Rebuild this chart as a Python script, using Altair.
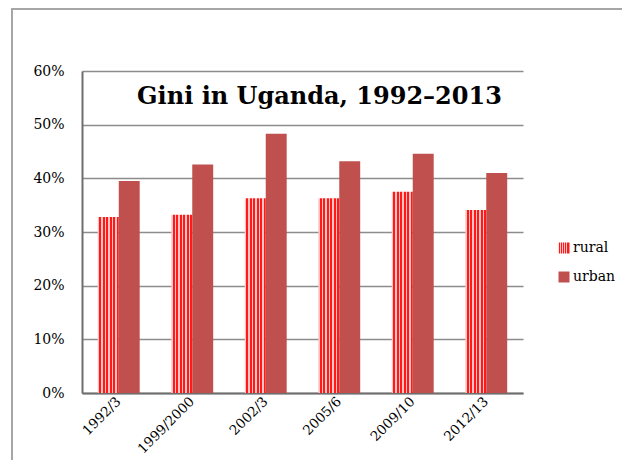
import json
import altair as alt
import pandas as pd

categories = ["1992/3", "1999/2000", "2002/3", "2005/6", "2009/10", "2012/13"]
rural = [32.8, 33.2, 36.3, 36.3, 37.5, 34.1]
urban = [39.5, 42.6, 48.3, 43.2, 44.6, 41.0]
series = ["rural", "urban"]
y_ticks = [0, 10, 20, 30, 40, 50, 60]

rows = []
for c, r, u in zip(categories, rural, urban):
    rows.append({"period": c, "series": "rural", "gini": r})
    rows.append({"period": c, "series": "urban", "gini": u})
df = pd.DataFrame(rows)

# vertical stripe gradient for the rural series
n_stripes = 6
stops = []
for i in range(n_stripes):
    a = i / n_stripes
    b = (i + 0.38) / n_stripes
    c = (i + 1) / n_stripes
    stops += [
        {"offset": a, "color": "#ffc4c4"},
        {"offset": b, "color": "#ffc4c4"},
        {"offset": b, "color": "#ff1a1a"},
        {"offset": c, "color": "#ff1a1a"},
    ]
grad = {"gradient": "linear", "x1": 0, "y1": 0, "x2": 1, "y2": 0, "stops": stops}
grad_expr = json.dumps(grad)

FONT = "DejaVu Serif"

bars = alt.Chart(df).mark_bar().encode(
    x=alt.X(
        "period:N",
        sort=categories,
        scale=alt.Scale(paddingInner=0.43, paddingOuter=0.215),
        axis=alt.Axis(
            title=None,
            labelAngle=-45,
            labelAlign="right",
            labelBaseline="middle",
            labelFont=FONT,
            labelFontSize=13.5,
            labelColor="#000000",
            labelPadding=6,
            ticks=False,
            domainColor="#6e6e6e",
            domainWidth=2,
            grid=False,
        ),
    ),
    xOffset=alt.XOffset("series:N", sort=series),
    y=alt.Y(
        "gini:Q",
        scale=alt.Scale(domain=[0, 60], nice=False),
        axis=alt.Axis(
            title=None,
            values=y_ticks,
            labelExpr="datum.value + '%'",
            labelFont=FONT,
            labelFontSize=14,
            labelColor="#000000",
            labelPadding=18,
            ticks=False,
            domainColor="#6e6e6e",
            domainWidth=2,
            gridColor="#8c8c8c",
            gridWidth=1.5,
        ),
    ),
    fill=alt.Fill(
        "series:N",
        scale=alt.Scale(domain=series, range=[{"expr": grad_expr}, "#c0504d"]),
        legend=alt.Legend(
            title=None,
            orient="none",
            legendX=475,
            legendY=170,
            symbolType="square",
            symbolSize=121,
            symbolStrokeWidth=0,
            labelFont=FONT,
            labelFontSize=14,
            labelColor="#000000",
            labelOffset=2,
            rowPadding=15,
            padding=0,
        ),
    ),
)

border = alt.Chart(pd.DataFrame({"a": [0]})).mark_rect(
    fill=None, stroke="#a6a6a6", strokeWidth=2
).encode(
    x=alt.value(-70), x2=alt.value(700), y=alt.value(-62), y2=alt.value(500)
)

chart = alt.layer(border, bars).properties(
    width=441,
    height=322,
    autosize=alt.AutoSizeParams(type="none"),
    padding={"left": 74, "top": 63, "right": 99, "bottom": 67},
    title=alt.Title(
        "Gini in Uganda, 1992–2013",
        font=FONT,
        fontSize=24,
        fontWeight="bold",
        color="#000000",
        anchor="middle",
        frame="group",
        baseline="alphabetic",
        dx=17,
        dy=124,
    ),
).configure_view(stroke=None)

chart.save("out.html", embed_options={"renderer": "svg", "actions": False})
